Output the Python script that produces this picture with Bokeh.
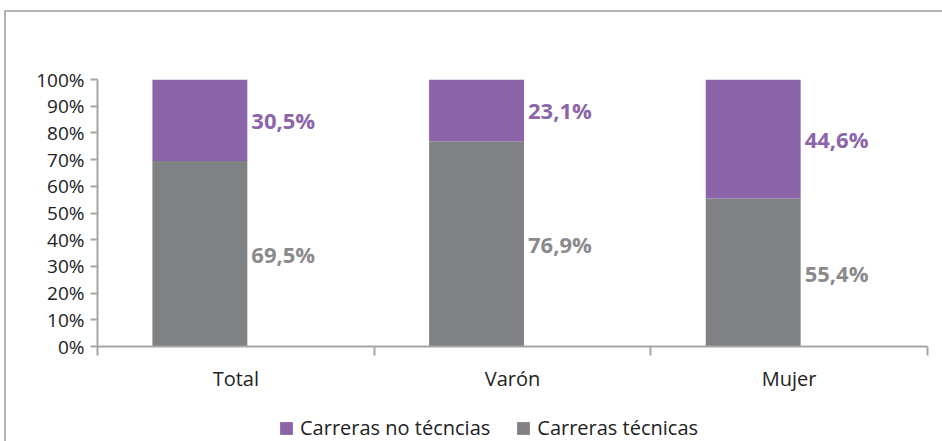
from bokeh.plotting import figure
from bokeh.layouts import column
from bokeh.models import (ColumnDataSource, FixedTicker, Legend, LegendItem, Range1d)
from bokeh.core.properties import value
from bokeh.embed import file_html
from bokeh.resources import INLINE

categories = ["Total", "Varón", "Mujer"]
tecnicas = [69.5, 76.9, 55.4]
no_tecnicas = [30.5, 23.1, 44.6]
tecnicas_labels = ["69,5%", "76,9%", "55,4%"]
no_tecnicas_labels = ["30,5%", "23,1%", "44,6%"]
series_names = ["Carreras no técncias", "Carreras técnicas"]
y_ticks = [0, 10, 20, 30, 40, 50, 60, 70, 80, 90, 100]
y_tick_labels = [f"{t}%" for t in y_ticks]

PURPLE = "#8c64a9"
GREY = "#808184"
GREY_TEXT = "#8a8a8c"
AXIS = "#a6a6a6"
FONT = "Open Sans"
BAR_W = 0.343
BAR_SHIFT = -0.13

xs = [i + 0.5 for i in range(len(categories))]
bx = [x + BAR_SHIFT for x in xs]
src = ColumnDataSource(dict(
    x=bx,
    tec=tecnicas,
    no=no_tecnicas,
    top_all=[a + b for a, b in zip(tecnicas, no_tecnicas)],
    tec_mid=[a / 2 for a in tecnicas],
    no_mid=[a + b / 2 for a, b in zip(tecnicas, no_tecnicas)],
    lx=[x + BAR_W / 2 for x in bx],
    tec_lab=tecnicas_labels,
    no_lab=no_tecnicas_labels,
))

p = figure(width=936, height=397, output_backend="svg", toolbar_location=None,
           x_range=Range1d(0, len(categories)), y_range=Range1d(0, 100))
p.min_border_left = 91
p.min_border_right = 15
p.min_border_top = 67
p.min_border_bottom = 63
p.outline_line_color = None
p.xgrid.visible = False
p.ygrid.visible = False

r_tec = p.vbar(x="x", bottom=0, top="tec", width=BAR_W, source=src,
               fill_color=GREY, line_color=None)
r_no = p.vbar(x="x", bottom="tec", top="top_all", width=BAR_W, source=src,
              fill_color=PURPLE, line_color=None)

p.text(x="lx", y="no_mid", text="no_lab", source=src, x_offset=4,
       text_baseline="middle", text_align="left", text_color=PURPLE,
       text_font=value(FONT), text_font_size="22px", text_font_style="bold")
p.text(x="lx", y="tec_mid", text="tec_lab", source=src, x_offset=4,
       text_baseline="middle", text_align="left", text_color=GREY_TEXT,
       text_font=value(FONT), text_font_size="22px", text_font_style="bold")

# y axis
ya = p.yaxis[0]
ya.ticker = FixedTicker(ticks=y_ticks, minor_ticks=[])
ya.major_label_overrides = {t: l for t, l in zip(y_ticks, y_tick_labels)}
ya.axis_line_color = AXIS
ya.axis_line_width = 2
ya.major_tick_line_color = AXIS
ya.major_tick_line_width = 2
ya.major_tick_in = 0
ya.major_tick_out = 7
ya.minor_tick_line_color = None
ya.major_label_standoff = 6
ya.major_label_text_font = FONT
ya.major_label_text_font_size = "19px"
ya.major_label_text_color = "#222222"

# x axis
xa = p.xaxis[0]
xa.ticker = FixedTicker(ticks=xs, minor_ticks=list(range(len(categories) + 1)))
xa.major_label_overrides = {x: c for x, c in zip(xs, categories)}
xa.axis_line_color = AXIS
xa.axis_line_width = 2
xa.major_tick_line_color = None
xa.major_tick_in = 0
xa.major_tick_out = 0
xa.minor_tick_line_color = AXIS
xa.minor_tick_line_width = 2
xa.minor_tick_in = 0
xa.minor_tick_out = 9
xa.major_label_standoff = 9
xa.major_label_text_font = FONT
xa.major_label_text_font_size = "20px"
xa.major_label_text_color = "#222222"

# legend strip below the chart (proxy glyphs lie entirely outside its visible ranges)
lg = figure(width=936, height=32, output_backend="svg", toolbar_location=None,
            x_axis_location=None, y_axis_location=None,
            x_range=Range1d(0, 1), y_range=Range1d(0, 1))
lg.min_border = 0
lg.outline_line_color = None
lg.xgrid.visible = False
lg.ygrid.visible = False
lg_no = lg.vbar(x=[-50], bottom=[-60], top=[-50], width=0.1, fill_color=PURPLE, line_color=None)
lg_tec = lg.vbar(x=[-50], bottom=[-60], top=[-50], width=0.1, fill_color=GREY, line_color=None)

legend = Legend(items=[
    LegendItem(label=series_names[0], renderers=[lg_no]),
    LegendItem(label=series_names[1], renderers=[lg_tec]),
], orientation="horizontal", location=(181, 0))
legend.border_line_color = None
legend.background_fill_alpha = 0
legend.padding = 0
legend.margin = 0
legend.glyph_width = 16
legend.glyph_height = 16
legend.label_standoff = 6
legend.spacing = 25
legend.label_text_font = FONT
legend.label_text_font_size = "20px"
legend.label_text_color = "#222222"
legend.label_height = 16
lg.add_layout(legend, "center")

layout = column(p, lg, spacing=0,
                styles={"border-left": "2px solid #b4b4b4", "border-top": "2px solid #b4b4b4",
                        "margin-left": "4px", "margin-top": "10px"})

open("out.html", "w").write(file_html(layout, INLINE))
